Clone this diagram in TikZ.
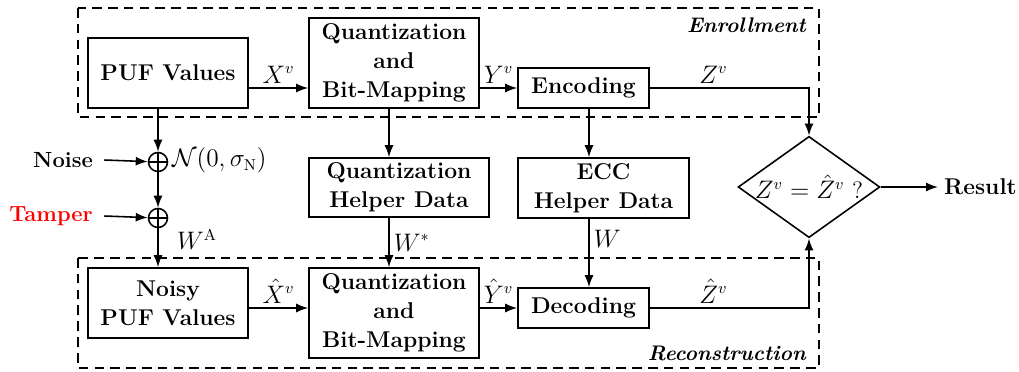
\documentclass[tikz,border=0pt]{standalone}
\usepackage{amsmath,amssymb}
\usepackage{xcolor}
\usepackage{tikz}
\usetikzlibrary{positioning,arrows.meta,shapes.geometric}

\begin{document}
\begin{tikzpicture}[x=0.02cm, y=-0.02cm,
    >={Latex[length=2.4mm,width=1.8mm]},
    blk/.style={draw, line width=0.9pt, align=center, inner sep=0pt, font=\fontsize{13}{16.5}\selectfont\bfseries},
    lbl/.style={font=\fontsize{13.5}{15}\selectfont},
    txt/.style={font=\fontsize{12.5}{14}\selectfont\bfseries},
    tag/.style={font=\fontsize{12}{14}\selectfont\bfseries\itshape},
    region/.style={draw, line width=0.9pt, dash pattern=on 5.5pt off 3.5pt},
    flow/.style={->, line width=0.9pt},
    xor/.style={draw, circle, line width=0.9pt, minimum size=0.38cm, inner sep=0pt},
  ]
  \useasboundingbox (0,0) rectangle (1019,372);

  % the two phases
  \draw[region] (78,8) rectangle (819,117);
  \draw[region] (78,258) rectangle (819,368);
  \node[tag, anchor=east] (enrl) at (812,25) {Enrollment};
  \node[tag, anchor=east] (recon) at (812,353) {Reconstruction};

  % blocks
  \node[blk, minimum width=3.2cm, minimum height=1.4cm]   (puf)  at (168,73)    {PUF Values};
  \node[blk, minimum width=3.4cm, minimum height=1.8cm]   (qnt1) at (394,63)    {Quantization\\and\\Bit-Mapping};
  \node[blk, minimum width=2.62cm, minimum height=0.8cm]  (enc)  at (583.5,88)  {Encoding};
  \node[blk, minimum width=3.6cm, minimum height=1.18cm]  (qhd)  at (399,187.5) {Quantization\\Helper Data};
  \node[blk, minimum width=3.42cm, minimum height=1.2cm]  (ehd)  at (603.5,188) {ECC\\Helper Data};
  \node[blk, minimum width=3.2cm, minimum height=1.4cm]   (npuf) at (168,303)   {Noisy\\PUF Values};
  \node[blk, minimum width=3.4cm, minimum height=1.8cm]   (qnt2) at (394,313)   {Quantization\\and\\Bit-Mapping};
  \node[blk, minimum width=2.62cm, minimum height=0.8cm]  (dec)  at (583.5,308) {Decoding};
  \node[draw, diamond, line width=0.9pt, shape aspect=1.4, inner sep=0pt,
        minimum width=2.76cm, minimum height=1.96cm, lbl] (cmp) at (809,187) {$Z^{v} = \hat{Z}^{v}$ ?};
  \node[txt, anchor=west, font=\fontsize{13}{14}\selectfont\bfseries] (res) at (938,187) {Result};

  % noise and tampering
  \node[xor] (o1) at (158,162) {};
  \node[xor] (o2) at (158,218) {};
  \draw[line width=0.9pt] (o1.north) -- (o1.south) (o1.west) -- (o1.east);
  \draw[line width=0.9pt] (o2.north) -- (o2.south) (o2.west) -- (o2.east);
  \node[txt, anchor=east] (noise) at (99,160) {Noise};
  \node[txt, anchor=east, text=red] (tamp) at (99,216) {Tamper};
  \node[lbl, anchor=west] (nrm) at (166,160) {$\mathcal{N}(0,\sigma_{\mathrm{N}})$};
  \node[lbl] (wa) at (197,240) {$W^{\mathrm{A}}$};

  \coordinate (c1) at (389,0);
  \coordinate (c2) at (589,0);

  % connectors
  \draw[flow] ([xshift=3pt]noise.east) -- (o1);
  \draw[flow] ([xshift=3pt]tamp.east) -- (o2);
  \draw[flow] (o1 |- puf.south) -- (o1);
  \draw[flow] (o1) -- (o2);
  \draw[flow] (o2) -- (o2 |- npuf.north);

  \draw[flow] (puf.east |- enc) -- node[lbl, above=-1pt] {$X^{v}$} (qnt1.west |- enc);
  \draw[flow] (qnt1.east |- enc) -- node[lbl, above=-1pt] {$Y^{v}$} (enc);
  \draw[flow] (enc) -| node[lbl, above=-1pt, pos=0.2] {$Z^{v}$} (cmp.north);
  \draw[flow] (c1 |- qnt1.south) -- (c1 |- qhd.north);
  \draw[flow] (c2 |- enc.south) -- (c2 |- ehd.north);
  \draw[flow] (c1 |- qhd.south) -- node[lbl, right=-1pt] {$W^{*}$} (c1 |- qnt2.north);
  \draw[flow] (c2 |- ehd.south) -- node[lbl, right=-1pt, pos=0.3] {$W$} (c2 |- dec.north);
  \draw[flow] (npuf.east |- dec) -- node[lbl, above=-1pt] {$\hat{X}^{v}$} (qnt2.west |- dec);
  \draw[flow] (qnt2.east |- dec) -- node[lbl, above=-1pt] {$\hat{Y}^{v}$} (dec);
  \draw[flow] (dec) -| node[lbl, above=-1pt, pos=0.2] {$\hat{Z}^{v}$} (cmp.south);
  \draw[flow] (cmp) -- (res);
\end{tikzpicture}
\end{document}
